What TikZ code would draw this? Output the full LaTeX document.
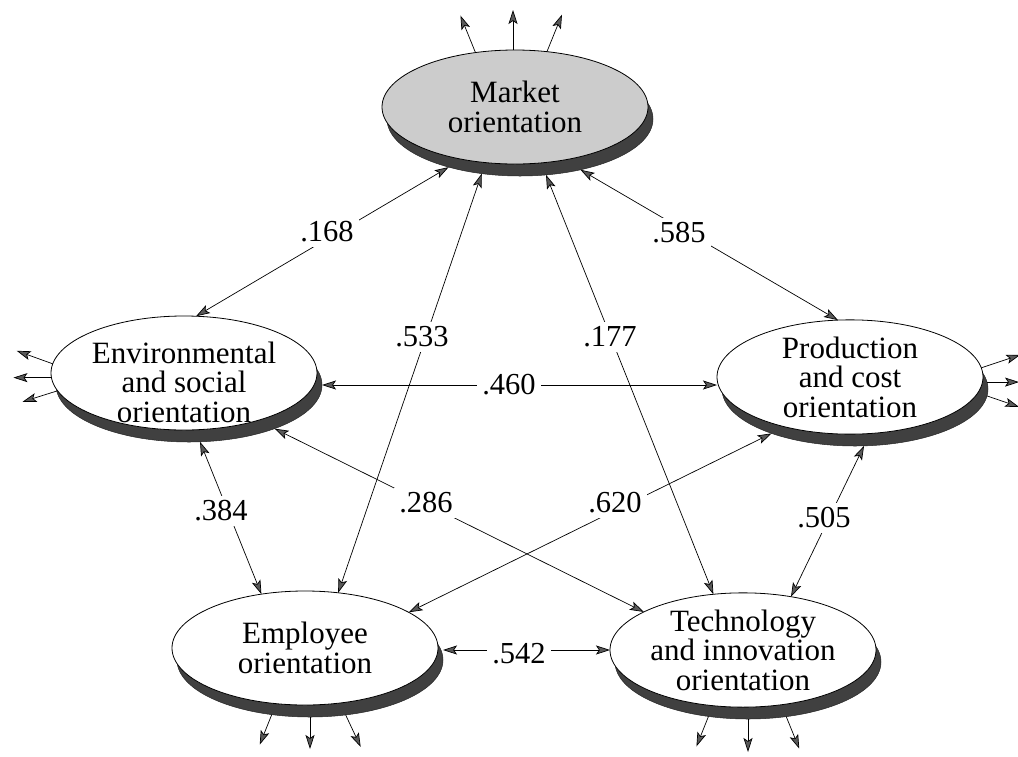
\documentclass[tikz,border=0pt]{standalone}
\usepackage{fontspec}
\setmainfont{Liberation Serif}
\usetikzlibrary{arrows.meta,shapes.geometric}
\tikzset{
  mytip/.tip={Stealth[length=14pt,width=9pt,inset=3pt,fill=black!65]},
  ell/.style={ellipse, draw, line width=0.8pt, fill=white, minimum width=266pt, minimum height=114pt,
    inner sep=0pt, outer sep=0pt, align=center, font=\fontsize{31}{29.5}\selectfont},
  shd/.style={ellipse, draw=black!85, line width=0.5pt, fill=black!75, minimum width=266pt, minimum height=114pt,
    inner sep=0pt, outer sep=0pt},
  conn/.style={line width=0.7pt, mytip-mytip},
  err/.style={line width=0.7pt, -mytip},
  lbl/.style={fill=white, inner sep=5pt, font=\fontsize{30.5}{30}\selectfont},
}
\begin{document}
\begin{tikzpicture}[x=1pt,y=-1pt]
\useasboundingbox (0,0) rectangle (1018,756);
% shadows
\node[shd] (Ms) at (520,119) {};
\node[shd] (Es) at (189,385) {};
\node[shd] (Ps) at (855,389) {};
\node[shd] (Ems) at (310,660) {};
\node[shd] (Ts) at (748,662) {};
% ellipses
\node[ell, fill=black!20] (M) at (515,107) {Market\\orientation};
\node[ell, label={[name=Et, align=center, font=\fontsize{31}{29.5}\selectfont, yshift=-9pt]center:Environmental\\and social\\orientation}] (E) at (184,373) {};
\node[ell] (P) at (850,377) {Production\\and cost\\orientation};
\node[ell] (Em) at (305,648) {Employee\\orientation};
\node[ell] (T) at (743,650) {Technology\\and innovation\\orientation};
% correlations
\draw[conn] (Ms.214) -- (E.78.5);
\draw[conn] (Ms.320) -- (P.102);
\draw[conn] (Ms.235) -- (Em.59);
\draw[conn] (Ms.295.5) -- (T.118.4);
\draw[conn] (Es.east) -- (Es.east -| P.west);
\draw[conn] (Es.281) -- (Em.129.3);
\draw[conn] (Es.333.4) -- (T.159.7);
\draw[conn] (Ps.208.4) -- (Em.19.9);
\draw[conn] (Ps.279.8) -- (T.48.9);
\draw[conn] (Ems.east |- T.west) -- (T.west);
% error arrows
\draw[err] (M.126) -- ++(-15,-37);
\draw[err] (M.92) -- ++(0,-40);
\draw[err] (M.60) -- ++(15,-37);
\draw[err] (E.176.5) -- ++(-36,-13);
\draw[err] (E.182.6) -- ++(-38,0);
\draw[err] (E.188.3) -- ++(-35,11);
\draw[err] (P.4) -- ++(39,-13);
\draw[err] (Ps.3) -- ++(32,0);
\draw[err] (Ps.-3.5) -- ++(32,11);
\draw[err] (Ems.235.4) -- ++(-12,30);
\draw[err] (Ems.270) -- ++(0,32);
\draw[err] (Ems.303.4) -- ++(15,32);
\draw[err] (Ts.234.4) -- ++(-12,30);
\draw[err] (Ts.270) -- ++(0,33);
\draw[err] (Ts.305.2) -- ++(13,32);
% labels
\node[lbl] (l168) at (327,232) {.168};
\node[lbl] (l585) at (679,233) {.585};
\node[lbl] (l533) at (422,337) {.533};
\node[lbl] (l177) at (610,337) {.177};
\node[lbl] (l460) at (509,385) {.460};
\node[lbl] (l384) at (221,511) {.384};
\node[lbl] (l286) at (426,503) {.286};
\node[lbl] (l620) at (615,503) {.620};
\node[lbl] (l505) at (824,518) {.505};
\node[lbl] (l542) at (519,654) {.542};
\end{tikzpicture}
\end{document}
